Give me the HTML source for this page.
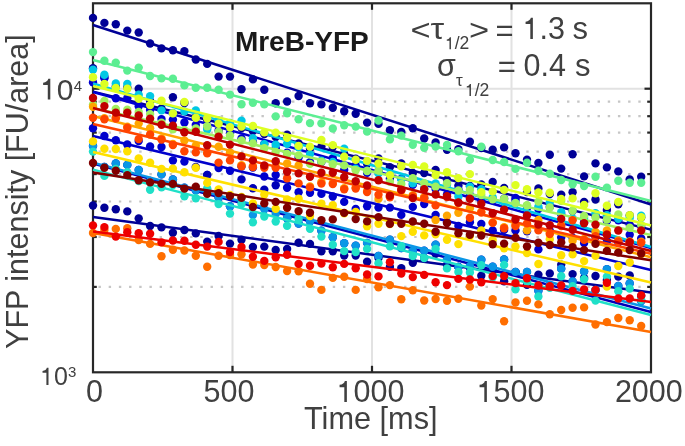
<!DOCTYPE html>
<html><head><meta charset="utf-8"><style>
html,body{margin:0;padding:0;background:#fff;width:685px;height:446px;overflow:hidden}
svg{display:block}
</style></head><body>
<svg style="will-change:transform" width="685" height="446" viewBox="0 0 685 446">
<rect width="685" height="446" fill="#fff"/>
<line x1="232.5" y1="3.3" x2="232.5" y2="372.3" stroke="#e2e2e2" stroke-width="2"/>
<line x1="372" y1="3.3" x2="372" y2="372.3" stroke="#e2e2e2" stroke-width="2"/>
<line x1="511.5" y1="3.3" x2="511.5" y2="372.3" stroke="#e2e2e2" stroke-width="2"/>
<line x1="93.0" y1="88.7" x2="651.0" y2="88.7" stroke="#e2e2e2" stroke-width="2"/>
<line x1="98.5" y1="286.9" x2="647.0" y2="286.9" stroke="#c6c6c6" stroke-width="2.2" stroke-dasharray="2.4 7.785"/>
<line x1="98.5" y1="237" x2="647.0" y2="237" stroke="#c6c6c6" stroke-width="2.2" stroke-dasharray="2.4 7.785"/>
<line x1="98.5" y1="201.5" x2="647.0" y2="201.5" stroke="#c6c6c6" stroke-width="2.2" stroke-dasharray="2.4 7.785"/>
<line x1="98.5" y1="174.1" x2="647.0" y2="174.1" stroke="#c6c6c6" stroke-width="2.2" stroke-dasharray="2.4 7.785"/>
<line x1="98.5" y1="151.6" x2="647.0" y2="151.6" stroke="#c6c6c6" stroke-width="2.2" stroke-dasharray="2.4 7.785"/>
<line x1="98.5" y1="132.6" x2="647.0" y2="132.6" stroke="#c6c6c6" stroke-width="2.2" stroke-dasharray="2.4 7.785"/>
<line x1="98.5" y1="116.2" x2="647.0" y2="116.2" stroke="#c6c6c6" stroke-width="2.2" stroke-dasharray="2.4 7.785"/>
<line x1="98.5" y1="101.7" x2="647.0" y2="101.7" stroke="#c6c6c6" stroke-width="2.2" stroke-dasharray="2.4 7.785"/>
<rect x="93.0" y="3.3" width="558.0" height="369.0" fill="none" stroke="#282828" stroke-width="2.2"/>
<line x1="232.5" y1="372.3" x2="232.5" y2="365.8" stroke="#262626" stroke-width="2.2"/>
<line x1="232.5" y1="3.3" x2="232.5" y2="9.8" stroke="#262626" stroke-width="2.2"/>
<line x1="372" y1="372.3" x2="372" y2="365.8" stroke="#262626" stroke-width="2.2"/>
<line x1="372" y1="3.3" x2="372" y2="9.8" stroke="#262626" stroke-width="2.2"/>
<line x1="511.5" y1="372.3" x2="511.5" y2="365.8" stroke="#262626" stroke-width="2.2"/>
<line x1="511.5" y1="3.3" x2="511.5" y2="9.8" stroke="#262626" stroke-width="2.2"/>
<line x1="93.0" y1="88.7" x2="99.5" y2="88.7" stroke="#262626" stroke-width="2.2"/>
<line x1="651.0" y1="88.7" x2="644.5" y2="88.7" stroke="#262626" stroke-width="2.2"/>
<line x1="93.0" y1="286.9" x2="96.8" y2="286.9" stroke="#262626" stroke-width="2.2"/>
<line x1="651.0" y1="286.9" x2="647.2" y2="286.9" stroke="#262626" stroke-width="2.2"/>
<line x1="93.0" y1="237" x2="96.8" y2="237" stroke="#262626" stroke-width="2.2"/>
<line x1="651.0" y1="237" x2="647.2" y2="237" stroke="#262626" stroke-width="2.2"/>
<line x1="93.0" y1="201.5" x2="96.8" y2="201.5" stroke="#262626" stroke-width="2.2"/>
<line x1="651.0" y1="201.5" x2="647.2" y2="201.5" stroke="#262626" stroke-width="2.2"/>
<line x1="93.0" y1="174.1" x2="96.8" y2="174.1" stroke="#262626" stroke-width="2.2"/>
<line x1="651.0" y1="174.1" x2="647.2" y2="174.1" stroke="#262626" stroke-width="2.2"/>
<line x1="93.0" y1="151.6" x2="96.8" y2="151.6" stroke="#262626" stroke-width="2.2"/>
<line x1="651.0" y1="151.6" x2="647.2" y2="151.6" stroke="#262626" stroke-width="2.2"/>
<line x1="93.0" y1="132.6" x2="96.8" y2="132.6" stroke="#262626" stroke-width="2.2"/>
<line x1="651.0" y1="132.6" x2="647.2" y2="132.6" stroke="#262626" stroke-width="2.2"/>
<line x1="93.0" y1="116.2" x2="96.8" y2="116.2" stroke="#262626" stroke-width="2.2"/>
<line x1="651.0" y1="116.2" x2="647.2" y2="116.2" stroke="#262626" stroke-width="2.2"/>
<line x1="93.0" y1="101.7" x2="96.8" y2="101.7" stroke="#262626" stroke-width="2.2"/>
<line x1="651.0" y1="101.7" x2="647.2" y2="101.7" stroke="#262626" stroke-width="2.2"/>
<g fill="#000096"><circle cx="93" cy="17.9" r="4.2"/><circle cx="104.4" cy="22.9" r="4.2"/><circle cx="115.8" cy="24.2" r="4.2"/><circle cx="127.3" cy="30.6" r="4.2"/><circle cx="138.7" cy="32.5" r="4.2"/><circle cx="150.1" cy="43.5" r="4.2"/><circle cx="161.5" cy="48.4" r="4.2"/><circle cx="172.9" cy="50.3" r="4.2"/><circle cx="184.4" cy="51.1" r="4.2"/><circle cx="195.8" cy="59.5" r="4.2"/><circle cx="207.2" cy="63.9" r="4.2"/><circle cx="218.6" cy="76.6" r="4.2"/><circle cx="230" cy="76.6" r="4.2"/><circle cx="241.5" cy="89.3" r="4.2"/><circle cx="252.9" cy="79.4" r="4.2"/><circle cx="264.3" cy="89.8" r="4.2"/><circle cx="275.7" cy="103.2" r="4.2"/><circle cx="287.1" cy="101.5" r="4.2"/><circle cx="298.6" cy="96" r="4.2"/><circle cx="310" cy="103.2" r="4.2"/><circle cx="321.4" cy="104.4" r="4.2"/><circle cx="332.8" cy="107.7" r="4.2"/><circle cx="344.2" cy="111.2" r="4.2"/><circle cx="355.7" cy="113.8" r="4.2"/><circle cx="367.1" cy="122.6" r="4.2"/><circle cx="378.5" cy="123.9" r="4.2"/><circle cx="389.9" cy="130.2" r="4.2"/><circle cx="401.3" cy="132" r="4.2"/><circle cx="412.8" cy="128.2" r="4.2"/><circle cx="424.2" cy="138.5" r="4.2"/><circle cx="435.6" cy="142.4" r="4.2"/><circle cx="447" cy="149.7" r="4.2"/><circle cx="458.4" cy="149.1" r="4.2"/><circle cx="469.9" cy="141.8" r="4.2"/><circle cx="481.3" cy="148" r="4.2"/><circle cx="492.7" cy="149.7" r="4.2"/><circle cx="504.1" cy="147.4" r="4.2"/><circle cx="515.5" cy="153.2" r="4.2"/><circle cx="527" cy="159.8" r="4.2"/><circle cx="538.4" cy="163" r="4.2"/><circle cx="549.8" cy="154.7" r="4.2"/><circle cx="561.2" cy="168.6" r="4.2"/><circle cx="572.6" cy="154.3" r="4.2"/><circle cx="584.1" cy="176.4" r="4.2"/><circle cx="595.5" cy="163.4" r="4.2"/><circle cx="606.9" cy="167.4" r="4.2"/><circle cx="618.3" cy="171.4" r="4.2"/><circle cx="629.7" cy="179.5" r="4.2"/><circle cx="641.2" cy="176.8" r="4.2"/></g>
<line x1="93.0" y1="25" x2="651.0" y2="204.5" stroke="#000096" stroke-width="2.5"/>
<g fill="#000096"><circle cx="93" cy="68.3" r="4.2"/><circle cx="104.4" cy="77" r="4.2"/><circle cx="115.8" cy="86.5" r="4.2"/><circle cx="127.3" cy="87.5" r="4.2"/><circle cx="138.7" cy="88.8" r="4.2"/><circle cx="150.1" cy="101" r="4.2"/><circle cx="161.5" cy="108.5" r="4.2"/><circle cx="172.9" cy="97.3" r="4.2"/><circle cx="184.4" cy="103" r="4.2"/><circle cx="195.8" cy="117" r="4.2"/><circle cx="207.2" cy="120" r="4.2"/><circle cx="218.6" cy="123" r="4.2"/><circle cx="230" cy="126" r="4.2"/><circle cx="241.5" cy="128" r="4.2"/><circle cx="252.9" cy="131" r="4.2"/><circle cx="264.3" cy="134" r="4.2"/><circle cx="275.7" cy="137" r="4.2"/><circle cx="287.1" cy="134.8" r="4.2"/><circle cx="298.6" cy="143.5" r="4.2"/><circle cx="310" cy="148.8" r="4.2"/><circle cx="321.4" cy="146.6" r="4.2"/><circle cx="332.8" cy="146.7" r="4.2"/><circle cx="344.2" cy="154" r="4.2"/><circle cx="355.7" cy="158.8" r="4.2"/><circle cx="367.1" cy="163.8" r="4.2"/><circle cx="378.5" cy="158.4" r="4.2"/><circle cx="389.9" cy="167.1" r="4.2"/><circle cx="401.3" cy="163.5" r="4.2"/><circle cx="412.8" cy="173" r="4.2"/><circle cx="424.2" cy="173" r="4.2"/><circle cx="435.6" cy="170" r="4.2"/><circle cx="447" cy="179.6" r="4.2"/><circle cx="458.4" cy="185.6" r="4.2"/><circle cx="469.9" cy="185.9" r="4.2"/><circle cx="481.3" cy="184.4" r="4.2"/><circle cx="492.7" cy="181.9" r="4.2"/><circle cx="504.1" cy="188" r="4.2"/><circle cx="515.5" cy="200" r="4.2"/><circle cx="527" cy="192" r="4.2"/><circle cx="538.4" cy="188.5" r="4.2"/><circle cx="549.8" cy="194" r="4.2"/><circle cx="561.2" cy="194.6" r="4.2"/><circle cx="572.6" cy="192.2" r="4.2"/><circle cx="584.1" cy="202" r="4.2"/><circle cx="595.5" cy="199.5" r="4.2"/><circle cx="606.9" cy="210" r="4.2"/><circle cx="618.3" cy="204.2" r="4.2"/><circle cx="629.7" cy="215.5" r="4.2"/><circle cx="641.2" cy="217.5" r="4.2"/></g>
<line x1="93.0" y1="91.6" x2="651.0" y2="229.6" stroke="#000096" stroke-width="2.5"/>
<g fill="#000096"><circle cx="93" cy="205.5" r="4.2"/><circle cx="104.4" cy="207.8" r="4.2"/><circle cx="115.8" cy="209.3" r="4.2"/><circle cx="127.3" cy="211.4" r="4.2"/><circle cx="138.7" cy="218.4" r="4.2"/><circle cx="150.1" cy="226" r="4.2"/><circle cx="161.5" cy="227.4" r="4.2"/><circle cx="172.9" cy="232.7" r="4.2"/><circle cx="184.4" cy="230" r="4.2"/><circle cx="195.8" cy="233.4" r="4.2"/><circle cx="207.2" cy="241.6" r="4.2"/><circle cx="218.6" cy="236" r="4.2"/><circle cx="230" cy="243.6" r="4.2"/><circle cx="241.5" cy="239.7" r="4.2"/><circle cx="252.9" cy="247" r="4.2"/><circle cx="264.3" cy="246.6" r="4.2"/><circle cx="275.7" cy="250" r="4.2"/><circle cx="287.1" cy="249" r="4.2"/><circle cx="298.6" cy="242.8" r="4.2"/><circle cx="310" cy="243.9" r="4.2"/><circle cx="321.4" cy="251.2" r="4.2"/><circle cx="332.8" cy="251.2" r="4.2"/><circle cx="344.2" cy="255.5" r="4.2"/><circle cx="355.7" cy="255.5" r="4.2"/><circle cx="367.1" cy="261.8" r="4.2"/><circle cx="378.5" cy="258" r="4.2"/><circle cx="389.9" cy="266.9" r="4.2"/><circle cx="401.3" cy="268.1" r="4.2"/><circle cx="412.8" cy="262.8" r="4.2"/><circle cx="424.2" cy="258" r="4.2"/><circle cx="435.6" cy="253.8" r="4.2"/><circle cx="447" cy="265" r="4.2"/><circle cx="458.4" cy="266.9" r="4.2"/><circle cx="469.9" cy="268" r="4.2"/><circle cx="481.3" cy="275.8" r="4.2"/><circle cx="492.7" cy="270" r="4.2"/><circle cx="504.1" cy="281.2" r="4.2"/><circle cx="515.5" cy="272.4" r="4.2"/><circle cx="527" cy="284.8" r="4.2"/><circle cx="538.4" cy="274.6" r="4.2"/><circle cx="549.8" cy="273.4" r="4.2"/><circle cx="561.2" cy="264.6" r="4.2"/><circle cx="572.6" cy="274.1" r="4.2"/><circle cx="584.1" cy="278" r="4.2"/><circle cx="595.5" cy="276" r="4.2"/><circle cx="606.9" cy="280" r="4.2"/><circle cx="618.3" cy="276.6" r="4.2"/><circle cx="629.7" cy="275.5" r="4.2"/><circle cx="641.2" cy="296" r="4.2"/></g>
<line x1="93.0" y1="217" x2="651.0" y2="292.5" stroke="#000096" stroke-width="2.5"/>
<g fill="#0000d0"><circle cx="93" cy="82.4" r="4.2"/><circle cx="104.4" cy="78.3" r="4.2"/><circle cx="115.8" cy="98.3" r="4.2"/><circle cx="127.3" cy="98.3" r="4.2"/><circle cx="138.7" cy="106.3" r="4.2"/><circle cx="150.1" cy="110" r="4.2"/><circle cx="161.5" cy="119.1" r="4.2"/><circle cx="172.9" cy="119.6" r="4.2"/><circle cx="184.4" cy="122.5" r="4.2"/><circle cx="195.8" cy="124.9" r="4.2"/><circle cx="207.2" cy="127.5" r="4.2"/><circle cx="218.6" cy="130.5" r="4.2"/><circle cx="230" cy="133.2" r="4.2"/><circle cx="241.5" cy="138.5" r="4.2"/><circle cx="252.9" cy="142.2" r="4.2"/><circle cx="264.3" cy="143.9" r="4.2"/><circle cx="275.7" cy="148.3" r="4.2"/><circle cx="287.1" cy="152.8" r="4.2"/><circle cx="298.6" cy="157.5" r="4.2"/><circle cx="310" cy="162.1" r="4.2"/><circle cx="321.4" cy="162.1" r="4.2"/><circle cx="332.8" cy="158.2" r="4.2"/><circle cx="344.2" cy="169.9" r="4.2"/><circle cx="355.7" cy="165.4" r="4.2"/><circle cx="367.1" cy="172.7" r="4.2"/><circle cx="378.5" cy="170.9" r="4.2"/><circle cx="389.9" cy="178.8" r="4.2"/><circle cx="401.3" cy="178.8" r="4.2"/><circle cx="412.8" cy="184.9" r="4.2"/><circle cx="424.2" cy="198.2" r="4.2"/><circle cx="435.6" cy="189" r="4.2"/><circle cx="447" cy="194.5" r="4.2"/><circle cx="458.4" cy="189.3" r="4.2"/><circle cx="469.9" cy="195.2" r="4.2"/><circle cx="481.3" cy="200.8" r="4.2"/><circle cx="492.7" cy="200.3" r="4.2"/><circle cx="504.1" cy="198.7" r="4.2"/><circle cx="515.5" cy="198" r="4.2"/><circle cx="527" cy="208" r="4.2"/><circle cx="538.4" cy="209" r="4.2"/><circle cx="549.8" cy="207" r="4.2"/><circle cx="561.2" cy="214.2" r="4.2"/><circle cx="572.6" cy="211.1" r="4.2"/><circle cx="584.1" cy="222.2" r="4.2"/><circle cx="595.5" cy="215.4" r="4.2"/><circle cx="606.9" cy="221.1" r="4.2"/><circle cx="618.3" cy="220.2" r="4.2"/><circle cx="629.7" cy="224.6" r="4.2"/><circle cx="641.2" cy="226" r="4.2"/></g>
<line x1="93.0" y1="92" x2="651.0" y2="248" stroke="#0000d0" stroke-width="2.5"/>
<g fill="#0000cc"><circle cx="93" cy="128.2" r="4.2"/><circle cx="104.4" cy="136" r="4.2"/><circle cx="115.8" cy="140.2" r="4.2"/><circle cx="127.3" cy="144.5" r="4.2"/><circle cx="138.7" cy="141" r="4.2"/><circle cx="150.1" cy="146.5" r="4.2"/><circle cx="161.5" cy="147" r="4.2"/><circle cx="172.9" cy="160.5" r="4.2"/><circle cx="184.4" cy="161.6" r="4.2"/><circle cx="195.8" cy="167" r="4.2"/><circle cx="207.2" cy="175" r="4.2"/><circle cx="218.6" cy="168" r="4.2"/><circle cx="230" cy="170.7" r="4.2"/><circle cx="241.5" cy="166.5" r="4.2"/><circle cx="252.9" cy="167.5" r="4.2"/><circle cx="264.3" cy="176.5" r="4.2"/><circle cx="275.7" cy="175" r="4.2"/><circle cx="287.1" cy="187.7" r="4.2"/><circle cx="298.6" cy="192.3" r="4.2"/><circle cx="310" cy="192.8" r="4.2"/><circle cx="321.4" cy="193.9" r="4.2"/><circle cx="332.8" cy="196.5" r="4.2"/><circle cx="344.2" cy="201.9" r="4.2"/><circle cx="355.7" cy="208.9" r="4.2"/><circle cx="367.1" cy="206.2" r="4.2"/><circle cx="378.5" cy="207.6" r="4.2"/><circle cx="389.9" cy="207.6" r="4.2"/><circle cx="401.3" cy="214.9" r="4.2"/><circle cx="412.8" cy="206.9" r="4.2"/><circle cx="424.2" cy="204" r="4.2"/><circle cx="435.6" cy="215" r="4.2"/><circle cx="447" cy="222.5" r="4.2"/><circle cx="458.4" cy="225.9" r="4.2"/><circle cx="469.9" cy="222.2" r="4.2"/><circle cx="481.3" cy="223.9" r="4.2"/><circle cx="492.7" cy="230.5" r="4.2"/><circle cx="504.1" cy="229.9" r="4.2"/><circle cx="515.5" cy="230.4" r="4.2"/><circle cx="527" cy="231.2" r="4.2"/><circle cx="538.4" cy="249.4" r="4.2"/><circle cx="549.8" cy="230.8" r="4.2"/><circle cx="561.2" cy="237.5" r="4.2"/><circle cx="572.6" cy="237.7" r="4.2"/><circle cx="584.1" cy="243" r="4.2"/><circle cx="595.5" cy="237" r="4.2"/><circle cx="606.9" cy="241.3" r="4.2"/><circle cx="618.3" cy="242.2" r="4.2"/><circle cx="629.7" cy="234.8" r="4.2"/><circle cx="641.2" cy="238.5" r="4.2"/></g>
<line x1="93.0" y1="136" x2="651.0" y2="270" stroke="#0000cc" stroke-width="2.5"/>
<g fill="#0000b8"><circle cx="93" cy="146.1" r="4.2"/><circle cx="104.4" cy="167" r="4.2"/><circle cx="115.8" cy="163.5" r="4.2"/><circle cx="127.3" cy="164.9" r="4.2"/><circle cx="138.7" cy="170" r="4.2"/><circle cx="150.1" cy="181" r="4.2"/><circle cx="161.5" cy="174.4" r="4.2"/><circle cx="172.9" cy="179.5" r="4.2"/><circle cx="184.4" cy="187.8" r="4.2"/><circle cx="195.8" cy="190.2" r="4.2"/><circle cx="207.2" cy="175" r="4.2"/><circle cx="218.6" cy="197.5" r="4.2"/><circle cx="230" cy="206.3" r="4.2"/><circle cx="241.5" cy="179.4" r="4.2"/><circle cx="252.9" cy="188.2" r="4.2"/><circle cx="264.3" cy="189.6" r="4.2"/><circle cx="275.7" cy="185.3" r="4.2"/><circle cx="287.1" cy="218.2" r="4.2"/><circle cx="298.6" cy="223.5" r="4.2"/><circle cx="310" cy="221.2" r="4.2"/><circle cx="321.4" cy="230.7" r="4.2"/><circle cx="332.8" cy="237.2" r="4.2"/><circle cx="344.2" cy="243.2" r="4.2"/><circle cx="355.7" cy="245.6" r="4.2"/><circle cx="367.1" cy="242.9" r="4.2"/><circle cx="378.5" cy="256" r="4.2"/><circle cx="389.9" cy="239.7" r="4.2"/><circle cx="401.3" cy="248" r="4.2"/><circle cx="412.8" cy="250.8" r="4.2"/><circle cx="424.2" cy="250.8" r="4.2"/><circle cx="435.6" cy="244.6" r="4.2"/><circle cx="447" cy="259.6" r="4.2"/><circle cx="458.4" cy="266.9" r="4.2"/><circle cx="469.9" cy="266" r="4.2"/><circle cx="481.3" cy="259.8" r="4.2"/><circle cx="492.7" cy="266.8" r="4.2"/><circle cx="504.1" cy="259.4" r="4.2"/><circle cx="515.5" cy="271.9" r="4.2"/><circle cx="527" cy="271.9" r="4.2"/><circle cx="538.4" cy="290.7" r="4.2"/><circle cx="549.8" cy="285" r="4.2"/><circle cx="561.2" cy="268.8" r="4.2"/><circle cx="572.6" cy="281.4" r="4.2"/><circle cx="584.1" cy="271.5" r="4.2"/><circle cx="595.5" cy="290" r="4.2"/><circle cx="606.9" cy="269.1" r="4.2"/><circle cx="618.3" cy="285.9" r="4.2"/><circle cx="629.7" cy="283.4" r="4.2"/><circle cx="641.2" cy="301" r="4.2"/></g>
<line x1="93.0" y1="163.5" x2="651.0" y2="312" stroke="#0000b8" stroke-width="2.5"/>
<g fill="#0a96e6"><circle cx="93" cy="146.1" r="4.2"/><circle cx="104.4" cy="167" r="4.2"/><circle cx="115.8" cy="163.5" r="4.2"/><circle cx="127.3" cy="164.9" r="4.2"/><circle cx="138.7" cy="170" r="4.2"/><circle cx="150.1" cy="181" r="4.2"/><circle cx="161.5" cy="174.4" r="4.2"/><circle cx="172.9" cy="179.5" r="4.2"/><circle cx="184.4" cy="187.8" r="4.2"/><circle cx="195.8" cy="190.2" r="4.2"/><circle cx="207.2" cy="190" r="4.2"/><circle cx="218.6" cy="197.5" r="4.2"/><circle cx="230" cy="206.3" r="4.2"/><circle cx="241.5" cy="197.5" r="4.2"/><circle cx="252.9" cy="215" r="4.2"/><circle cx="264.3" cy="209.2" r="4.2"/><circle cx="275.7" cy="213.9" r="4.2"/><circle cx="287.1" cy="218.2" r="4.2"/><circle cx="298.6" cy="223.5" r="4.2"/><circle cx="310" cy="221.2" r="4.2"/><circle cx="321.4" cy="230.7" r="4.2"/><circle cx="332.8" cy="237.2" r="4.2"/><circle cx="344.2" cy="243.2" r="4.2"/><circle cx="355.7" cy="245.6" r="4.2"/><circle cx="367.1" cy="242.9" r="4.2"/><circle cx="378.5" cy="256" r="4.2"/><circle cx="389.9" cy="239.7" r="4.2"/><circle cx="401.3" cy="248" r="4.2"/><circle cx="412.8" cy="250.8" r="4.2"/><circle cx="424.2" cy="250.8" r="4.2"/><circle cx="435.6" cy="244.6" r="4.2"/><circle cx="447" cy="259.6" r="4.2"/><circle cx="458.4" cy="266.9" r="4.2"/><circle cx="469.9" cy="266" r="4.2"/><circle cx="481.3" cy="259.8" r="4.2"/><circle cx="492.7" cy="266.8" r="4.2"/><circle cx="504.1" cy="259.4" r="4.2"/><circle cx="515.5" cy="271.9" r="4.2"/><circle cx="527" cy="271.9" r="4.2"/><circle cx="538.4" cy="290.7" r="4.2"/><circle cx="549.8" cy="285" r="4.2"/><circle cx="561.2" cy="268.8" r="4.2"/><circle cx="572.6" cy="281.4" r="4.2"/><circle cx="584.1" cy="271.5" r="4.2"/><circle cx="595.5" cy="290" r="4.2"/><circle cx="606.9" cy="269.1" r="4.2"/><circle cx="618.3" cy="285.9" r="4.2"/><circle cx="629.7" cy="283.4" r="4.2"/><circle cx="641.2" cy="301" r="4.2"/></g>
<line x1="93.0" y1="162.6" x2="651.0" y2="308.5" stroke="#0a96e6" stroke-width="2.5"/>
<g fill="#00c8e4"><circle cx="93" cy="69.7" r="4.2"/><circle cx="104.4" cy="74.8" r="4.2"/><circle cx="115.8" cy="83.5" r="4.2"/><circle cx="127.3" cy="84" r="4.2"/><circle cx="138.7" cy="94.7" r="4.2"/><circle cx="150.1" cy="96.1" r="4.2"/><circle cx="161.5" cy="110.4" r="4.2"/><circle cx="172.9" cy="113" r="4.2"/><circle cx="184.4" cy="111.4" r="4.2"/><circle cx="195.8" cy="110.4" r="4.2"/><circle cx="207.2" cy="129.5" r="4.2"/><circle cx="218.6" cy="120.5" r="4.2"/><circle cx="230" cy="123" r="4.2"/><circle cx="241.5" cy="120.8" r="4.2"/><circle cx="252.9" cy="138.3" r="4.2"/><circle cx="264.3" cy="144.1" r="4.2"/><circle cx="275.7" cy="144.7" r="4.2"/><circle cx="287.1" cy="143.7" r="4.2"/><circle cx="298.6" cy="147.2" r="4.2"/><circle cx="310" cy="154.1" r="4.2"/><circle cx="321.4" cy="160.7" r="4.2"/><circle cx="332.8" cy="162" r="4.2"/><circle cx="344.2" cy="148.8" r="4.2"/><circle cx="355.7" cy="168.6" r="4.2"/><circle cx="367.1" cy="170.7" r="4.2"/><circle cx="378.5" cy="173.4" r="4.2"/><circle cx="389.9" cy="174.5" r="4.2"/><circle cx="401.3" cy="179.4" r="4.2"/><circle cx="412.8" cy="183.2" r="4.2"/><circle cx="424.2" cy="188.3" r="4.2"/><circle cx="435.6" cy="183.5" r="4.2"/><circle cx="447" cy="184.8" r="4.2"/><circle cx="458.4" cy="196.5" r="4.2"/><circle cx="469.9" cy="186.6" r="4.2"/><circle cx="481.3" cy="189.2" r="4.2"/><circle cx="492.7" cy="197.4" r="4.2"/><circle cx="504.1" cy="202.1" r="4.2"/><circle cx="515.5" cy="203" r="4.2"/><circle cx="527" cy="205.8" r="4.2"/><circle cx="538.4" cy="206.7" r="4.2"/><circle cx="549.8" cy="202.6" r="4.2"/><circle cx="561.2" cy="212.2" r="4.2"/><circle cx="572.6" cy="218.5" r="4.2"/><circle cx="584.1" cy="217.9" r="4.2"/><circle cx="595.5" cy="213.3" r="4.2"/><circle cx="606.9" cy="215.3" r="4.2"/><circle cx="618.3" cy="218.7" r="4.2"/><circle cx="629.7" cy="217.9" r="4.2"/><circle cx="641.2" cy="215.6" r="4.2"/></g>
<line x1="93.0" y1="83.4" x2="651.0" y2="247" stroke="#00c8e4" stroke-width="2.5"/>
<g fill="#20e0c8"><circle cx="93" cy="151.6" r="4.2"/><circle cx="104.4" cy="175.9" r="4.2"/><circle cx="115.8" cy="168.9" r="4.2"/><circle cx="127.3" cy="172.2" r="4.2"/><circle cx="138.7" cy="181" r="4.2"/><circle cx="150.1" cy="189.7" r="4.2"/><circle cx="161.5" cy="187.2" r="4.2"/><circle cx="172.9" cy="185" r="4.2"/><circle cx="184.4" cy="196.2" r="4.2"/><circle cx="195.8" cy="198.2" r="4.2"/><circle cx="207.2" cy="188.5" r="4.2"/><circle cx="218.6" cy="204.1" r="4.2"/><circle cx="230" cy="213.6" r="4.2"/><circle cx="241.5" cy="204" r="4.2"/><circle cx="252.9" cy="222.2" r="4.2"/><circle cx="264.3" cy="216.5" r="4.2"/><circle cx="275.7" cy="221.5" r="4.2"/><circle cx="287.1" cy="225.7" r="4.2"/><circle cx="298.6" cy="219" r="4.2"/><circle cx="310" cy="228.8" r="4.2"/><circle cx="321.4" cy="236.6" r="4.2"/><circle cx="332.8" cy="244.7" r="4.2"/><circle cx="344.2" cy="251.1" r="4.2"/><circle cx="355.7" cy="252" r="4.2"/><circle cx="367.1" cy="248.9" r="4.2"/><circle cx="378.5" cy="263.2" r="4.2"/><circle cx="389.9" cy="246.4" r="4.2"/><circle cx="401.3" cy="246.1" r="4.2"/><circle cx="412.8" cy="256" r="4.2"/><circle cx="424.2" cy="258.1" r="4.2"/><circle cx="435.6" cy="248.9" r="4.2"/><circle cx="447" cy="268.4" r="4.2"/><circle cx="458.4" cy="272" r="4.2"/><circle cx="469.9" cy="272.5" r="4.2"/><circle cx="481.3" cy="265.2" r="4.2"/><circle cx="492.7" cy="277.3" r="4.2"/><circle cx="504.1" cy="264.9" r="4.2"/><circle cx="515.5" cy="289.2" r="4.2"/><circle cx="527" cy="281.7" r="4.2"/><circle cx="538.4" cy="296.5" r="4.2"/><circle cx="549.8" cy="287.7" r="4.2"/><circle cx="561.2" cy="276.2" r="4.2"/><circle cx="572.6" cy="286.1" r="4.2"/><circle cx="584.1" cy="279.2" r="4.2"/><circle cx="595.5" cy="300.6" r="4.2"/><circle cx="606.9" cy="276.6" r="4.2"/><circle cx="618.3" cy="291.2" r="4.2"/><circle cx="629.7" cy="288.6" r="4.2"/><circle cx="641.2" cy="299.9" r="4.2"/></g>
<line x1="93.0" y1="169.6" x2="651.0" y2="315" stroke="#20e0c8" stroke-width="2.5"/>
<g fill="#5cee92"><circle cx="93" cy="52.1" r="4.2"/><circle cx="104.4" cy="60.8" r="4.2"/><circle cx="115.8" cy="62.6" r="4.2"/><circle cx="127.3" cy="70.6" r="4.2"/><circle cx="138.7" cy="67.6" r="4.2"/><circle cx="150.1" cy="76" r="4.2"/><circle cx="161.5" cy="78.4" r="4.2"/><circle cx="172.9" cy="78.8" r="4.2"/><circle cx="184.4" cy="85.4" r="4.2"/><circle cx="195.8" cy="87.8" r="4.2"/><circle cx="207.2" cy="87.8" r="4.2"/><circle cx="218.6" cy="89.7" r="4.2"/><circle cx="230" cy="94.6" r="4.2"/><circle cx="241.5" cy="104.2" r="4.2"/><circle cx="252.9" cy="102.7" r="4.2"/><circle cx="264.3" cy="104.4" r="4.2"/><circle cx="275.7" cy="116.4" r="4.2"/><circle cx="287.1" cy="113.2" r="4.2"/><circle cx="298.6" cy="119.3" r="4.2"/><circle cx="310" cy="123.1" r="4.2"/><circle cx="321.4" cy="123.4" r="4.2"/><circle cx="332.8" cy="128.5" r="4.2"/><circle cx="344.2" cy="125.3" r="4.2"/><circle cx="355.7" cy="126.6" r="4.2"/><circle cx="367.1" cy="131.6" r="4.2"/><circle cx="378.5" cy="120.5" r="4.2"/><circle cx="389.9" cy="139.4" r="4.2"/><circle cx="401.3" cy="135.6" r="4.2"/><circle cx="412.8" cy="144.7" r="4.2"/><circle cx="424.2" cy="147.7" r="4.2"/><circle cx="435.6" cy="146.5" r="4.2"/><circle cx="447" cy="145" r="4.2"/><circle cx="458.4" cy="151.2" r="4.2"/><circle cx="469.9" cy="159.9" r="4.2"/><circle cx="481.3" cy="146.8" r="4.2"/><circle cx="492.7" cy="160" r="4.2"/><circle cx="504.1" cy="162" r="4.2"/><circle cx="515.5" cy="168.9" r="4.2"/><circle cx="527" cy="162.7" r="4.2"/><circle cx="538.4" cy="170.8" r="4.2"/><circle cx="549.8" cy="173.7" r="4.2"/><circle cx="561.2" cy="180" r="4.2"/><circle cx="572.6" cy="184.3" r="4.2"/><circle cx="584.1" cy="186.1" r="4.2"/><circle cx="595.5" cy="176.8" r="4.2"/><circle cx="606.9" cy="187.6" r="4.2"/><circle cx="618.3" cy="180.8" r="4.2"/><circle cx="629.7" cy="182.8" r="4.2"/><circle cx="641.2" cy="182.8" r="4.2"/></g>
<line x1="93.0" y1="60" x2="651.0" y2="201" stroke="#5cee92" stroke-width="2.5"/>
<g fill="#a0f060"><circle cx="93" cy="104.8" r="4.2"/><circle cx="104.4" cy="101" r="4.2"/><circle cx="115.8" cy="109" r="4.2"/><circle cx="127.3" cy="109.7" r="4.2"/><circle cx="138.7" cy="111.9" r="4.2"/><circle cx="150.1" cy="114.1" r="4.2"/><circle cx="161.5" cy="122.8" r="4.2"/><circle cx="172.9" cy="129.4" r="4.2"/><circle cx="184.4" cy="130.2" r="4.2"/><circle cx="195.8" cy="128.4" r="4.2"/><circle cx="207.2" cy="126.2" r="4.2"/><circle cx="218.6" cy="131.7" r="4.2"/><circle cx="230" cy="135.4" r="4.2"/><circle cx="241.5" cy="140.5" r="4.2"/><circle cx="252.9" cy="143.4" r="4.2"/><circle cx="264.3" cy="148.2" r="4.2"/><circle cx="275.7" cy="152" r="4.2"/><circle cx="287.1" cy="153.9" r="4.2"/><circle cx="298.6" cy="155.4" r="4.2"/><circle cx="310" cy="163.9" r="4.2"/><circle cx="321.4" cy="161.7" r="4.2"/><circle cx="332.8" cy="164.2" r="4.2"/><circle cx="344.2" cy="165.4" r="4.2"/><circle cx="355.7" cy="170.2" r="4.2"/><circle cx="367.1" cy="171" r="4.2"/><circle cx="378.5" cy="170.6" r="4.2"/><circle cx="389.9" cy="181.7" r="4.2"/><circle cx="401.3" cy="183.9" r="4.2"/><circle cx="412.8" cy="178.1" r="4.2"/><circle cx="424.2" cy="183.2" r="4.2"/><circle cx="435.6" cy="186.8" r="4.2"/><circle cx="447" cy="183.2" r="4.2"/><circle cx="458.4" cy="190.5" r="4.2"/><circle cx="469.9" cy="189.9" r="4.2"/><circle cx="481.3" cy="195" r="4.2"/><circle cx="492.7" cy="199.4" r="4.2"/><circle cx="504.1" cy="198.7" r="4.2"/><circle cx="515.5" cy="203.1" r="4.2"/><circle cx="527" cy="205.3" r="4.2"/><circle cx="538.4" cy="201.6" r="4.2"/><circle cx="549.8" cy="207.4" r="4.2"/><circle cx="561.2" cy="200.8" r="4.2"/><circle cx="572.6" cy="210.8" r="4.2"/><circle cx="584.1" cy="215.9" r="4.2"/><circle cx="595.5" cy="217.4" r="4.2"/><circle cx="606.9" cy="219.5" r="4.2"/><circle cx="618.3" cy="214.4" r="4.2"/><circle cx="629.7" cy="227.8" r="4.2"/><circle cx="641.2" cy="224.9" r="4.2"/></g>
<line x1="93.0" y1="108" x2="651.0" y2="235" stroke="#a0f060" stroke-width="2.5"/>
<g fill="#ddff22"><circle cx="93" cy="77.3" r="4.2"/><circle cx="104.4" cy="84" r="4.2"/><circle cx="115.8" cy="88" r="4.2"/><circle cx="127.3" cy="88.8" r="4.2"/><circle cx="138.7" cy="98.8" r="4.2"/><circle cx="150.1" cy="105" r="4.2"/><circle cx="161.5" cy="100.7" r="4.2"/><circle cx="172.9" cy="113.4" r="4.2"/><circle cx="184.4" cy="102" r="4.2"/><circle cx="195.8" cy="117.8" r="4.2"/><circle cx="207.2" cy="118.3" r="4.2"/><circle cx="218.6" cy="123.7" r="4.2"/><circle cx="230" cy="127.3" r="4.2"/><circle cx="241.5" cy="126.6" r="4.2"/><circle cx="252.9" cy="125.9" r="4.2"/><circle cx="264.3" cy="132.4" r="4.2"/><circle cx="275.7" cy="132.6" r="4.2"/><circle cx="287.1" cy="137.8" r="4.2"/><circle cx="298.6" cy="145.9" r="4.2"/><circle cx="310" cy="146.6" r="4.2"/><circle cx="321.4" cy="140" r="4.2"/><circle cx="332.8" cy="145.1" r="4.2"/><circle cx="344.2" cy="156.8" r="4.2"/><circle cx="355.7" cy="159.8" r="4.2"/><circle cx="367.1" cy="160.9" r="4.2"/><circle cx="378.5" cy="163.5" r="4.2"/><circle cx="389.9" cy="175.1" r="4.2"/><circle cx="401.3" cy="166.4" r="4.2"/><circle cx="412.8" cy="164.9" r="4.2"/><circle cx="424.2" cy="166.4" r="4.2"/><circle cx="435.6" cy="175.1" r="4.2"/><circle cx="447" cy="172.2" r="4.2"/><circle cx="458.4" cy="178.1" r="4.2"/><circle cx="469.9" cy="174.1" r="4.2"/><circle cx="481.3" cy="192.1" r="4.2"/><circle cx="492.7" cy="191.4" r="4.2"/><circle cx="504.1" cy="189.9" r="4.2"/><circle cx="515.5" cy="185.1" r="4.2"/><circle cx="527" cy="189.2" r="4.2"/><circle cx="538.4" cy="192.4" r="4.2"/><circle cx="549.8" cy="192.8" r="4.2"/><circle cx="561.2" cy="198.9" r="4.2"/><circle cx="572.6" cy="198.4" r="4.2"/><circle cx="584.1" cy="204.9" r="4.2"/><circle cx="595.5" cy="193.2" r="4.2"/><circle cx="606.9" cy="205.7" r="4.2"/><circle cx="618.3" cy="202" r="4.2"/><circle cx="629.7" cy="215.1" r="4.2"/><circle cx="641.2" cy="217.3" r="4.2"/></g>
<line x1="93.0" y1="86" x2="651.0" y2="225.5" stroke="#ddff22" stroke-width="2.5"/>
<g fill="#ffe000"><circle cx="93" cy="141.4" r="4.2"/><circle cx="104.4" cy="148.7" r="4.2"/><circle cx="115.8" cy="149" r="4.2"/><circle cx="127.3" cy="151.2" r="4.2"/><circle cx="138.7" cy="158.4" r="4.2"/><circle cx="150.1" cy="162.7" r="4.2"/><circle cx="161.5" cy="168.9" r="4.2"/><circle cx="172.9" cy="168.6" r="4.2"/><circle cx="184.4" cy="172.2" r="4.2"/><circle cx="195.8" cy="167.7" r="4.2"/><circle cx="207.2" cy="182.9" r="4.2"/><circle cx="218.6" cy="189.5" r="4.2"/><circle cx="230" cy="195" r="4.2"/><circle cx="241.5" cy="197" r="4.2"/><circle cx="252.9" cy="203.4" r="4.2"/><circle cx="264.3" cy="194.6" r="4.2"/><circle cx="275.7" cy="208.7" r="4.2"/><circle cx="287.1" cy="199.4" r="4.2"/><circle cx="298.6" cy="198.7" r="4.2"/><circle cx="310" cy="216" r="4.2"/><circle cx="321.4" cy="203.8" r="4.2"/><circle cx="332.8" cy="205.3" r="4.2"/><circle cx="344.2" cy="213.2" r="4.2"/><circle cx="355.7" cy="212" r="4.2"/><circle cx="367.1" cy="226.3" r="4.2"/><circle cx="378.5" cy="223.7" r="4.2"/><circle cx="389.9" cy="224" r="4.2"/><circle cx="401.3" cy="236.1" r="4.2"/><circle cx="412.8" cy="231.7" r="4.2"/><circle cx="424.2" cy="235.4" r="4.2"/><circle cx="435.6" cy="234.2" r="4.2"/><circle cx="447" cy="239.7" r="4.2"/><circle cx="458.4" cy="244.1" r="4.2"/><circle cx="469.9" cy="236" r="4.2"/><circle cx="481.3" cy="230.4" r="4.2"/><circle cx="492.7" cy="240" r="4.2"/><circle cx="504.1" cy="248.2" r="4.2"/><circle cx="515.5" cy="246.5" r="4.2"/><circle cx="527" cy="253.1" r="4.2"/><circle cx="538.4" cy="264" r="4.2"/><circle cx="549.8" cy="239.2" r="4.2"/><circle cx="561.2" cy="255.2" r="4.2"/><circle cx="572.6" cy="254.4" r="4.2"/><circle cx="584.1" cy="261.1" r="4.2"/><circle cx="595.5" cy="255.9" r="4.2"/><circle cx="606.9" cy="286.5" r="4.2"/><circle cx="618.3" cy="266" r="4.2"/><circle cx="629.7" cy="262.5" r="4.2"/><circle cx="641.2" cy="254" r="4.2"/></g>
<line x1="93.0" y1="152" x2="651.0" y2="282.5" stroke="#ffe000" stroke-width="2.5"/>
<g fill="#ffa500"><circle cx="93" cy="106.8" r="4.2"/><circle cx="104.4" cy="118.2" r="4.2"/><circle cx="115.8" cy="117.5" r="4.2"/><circle cx="127.3" cy="126.7" r="4.2"/><circle cx="138.7" cy="123.6" r="4.2"/><circle cx="150.1" cy="128.2" r="4.2"/><circle cx="161.5" cy="138.5" r="4.2"/><circle cx="172.9" cy="144" r="4.2"/><circle cx="184.4" cy="140.5" r="4.2"/><circle cx="195.8" cy="145.8" r="4.2"/><circle cx="207.2" cy="152.4" r="4.2"/><circle cx="218.6" cy="146.8" r="4.2"/><circle cx="230" cy="152.4" r="4.2"/><circle cx="241.5" cy="165.3" r="4.2"/><circle cx="252.9" cy="166" r="4.2"/><circle cx="264.3" cy="166.7" r="4.2"/><circle cx="275.7" cy="166.7" r="4.2"/><circle cx="287.1" cy="163.5" r="4.2"/><circle cx="298.6" cy="165.4" r="4.2"/><circle cx="310" cy="186.4" r="4.2"/><circle cx="321.4" cy="181.9" r="4.2"/><circle cx="332.8" cy="183.1" r="4.2"/><circle cx="344.2" cy="188.2" r="4.2"/><circle cx="355.7" cy="187.5" r="4.2"/><circle cx="367.1" cy="191.1" r="4.2"/><circle cx="378.5" cy="198.9" r="4.2"/><circle cx="389.9" cy="196.2" r="4.2"/><circle cx="401.3" cy="189.5" r="4.2"/><circle cx="412.8" cy="195.3" r="4.2"/><circle cx="424.2" cy="197.1" r="4.2"/><circle cx="435.6" cy="220" r="4.2"/><circle cx="447" cy="215.7" r="4.2"/><circle cx="458.4" cy="212.7" r="4.2"/><circle cx="469.9" cy="208.2" r="4.2"/><circle cx="481.3" cy="211.6" r="4.2"/><circle cx="492.7" cy="222.4" r="4.2"/><circle cx="504.1" cy="227.2" r="4.2"/><circle cx="515.5" cy="225" r="4.2"/><circle cx="527" cy="230.4" r="4.2"/><circle cx="538.4" cy="219.9" r="4.2"/><circle cx="549.8" cy="233.1" r="4.2"/><circle cx="561.2" cy="225.1" r="4.2"/><circle cx="572.6" cy="240.7" r="4.2"/><circle cx="584.1" cy="238.9" r="4.2"/><circle cx="595.5" cy="231.9" r="4.2"/><circle cx="606.9" cy="230.4" r="4.2"/><circle cx="618.3" cy="240.4" r="4.2"/><circle cx="629.7" cy="241.5" r="4.2"/><circle cx="641.2" cy="241.8" r="4.2"/></g>
<line x1="93.0" y1="116" x2="651.0" y2="257.3" stroke="#ffa500" stroke-width="2.5"/>
<g fill="#ff6e00"><circle cx="93" cy="233" r="4.2"/><circle cx="104.4" cy="230" r="4.2"/><circle cx="115.8" cy="228.9" r="4.2"/><circle cx="127.3" cy="228.3" r="4.2"/><circle cx="138.7" cy="240" r="4.2"/><circle cx="150.1" cy="243.9" r="4.2"/><circle cx="161.5" cy="256.3" r="4.2"/><circle cx="172.9" cy="249.7" r="4.2"/><circle cx="184.4" cy="250.5" r="4.2"/><circle cx="195.8" cy="255.8" r="4.2"/><circle cx="207.2" cy="266.7" r="4.2"/><circle cx="218.6" cy="255.8" r="4.2"/><circle cx="230" cy="255" r="4.2"/><circle cx="241.5" cy="254.3" r="4.2"/><circle cx="252.9" cy="264.5" r="4.2"/><circle cx="264.3" cy="265" r="4.2"/><circle cx="275.7" cy="267" r="4.2"/><circle cx="287.1" cy="271.1" r="4.2"/><circle cx="298.6" cy="271.2" r="4.2"/><circle cx="310" cy="283.7" r="4.2"/><circle cx="321.4" cy="289.9" r="4.2"/><circle cx="332.8" cy="277.9" r="4.2"/><circle cx="344.2" cy="276.7" r="4.2"/><circle cx="355.7" cy="289.9" r="4.2"/><circle cx="367.1" cy="279" r="4.2"/><circle cx="378.5" cy="287.2" r="4.2"/><circle cx="389.9" cy="285.1" r="4.2"/><circle cx="401.3" cy="299.3" r="4.2"/><circle cx="412.8" cy="290.3" r="4.2"/><circle cx="424.2" cy="300.5" r="4.2"/><circle cx="435.6" cy="299" r="4.2"/><circle cx="447" cy="300.8" r="4.2"/><circle cx="458.4" cy="298.7" r="4.2"/><circle cx="469.9" cy="286.6" r="4.2"/><circle cx="481.3" cy="305.5" r="4.2"/><circle cx="492.7" cy="299.1" r="4.2"/><circle cx="504.1" cy="321.3" r="4.2"/><circle cx="515.5" cy="302.5" r="4.2"/><circle cx="527" cy="300.8" r="4.2"/><circle cx="538.4" cy="304.4" r="4.2"/><circle cx="549.8" cy="314.3" r="4.2"/><circle cx="561.2" cy="310" r="4.2"/><circle cx="572.6" cy="307.8" r="4.2"/><circle cx="584.1" cy="307.4" r="4.2"/><circle cx="595.5" cy="324.5" r="4.2"/><circle cx="606.9" cy="322.1" r="4.2"/><circle cx="618.3" cy="318" r="4.2"/><circle cx="629.7" cy="320.2" r="4.2"/><circle cx="641.2" cy="326" r="4.2"/></g>
<line x1="93.0" y1="233" x2="651.0" y2="332" stroke="#ff6e00" stroke-width="2.5"/>
<g fill="#ff4400"><circle cx="93" cy="117.7" r="4.2"/><circle cx="104.4" cy="119.2" r="4.2"/><circle cx="115.8" cy="118.5" r="4.2"/><circle cx="127.3" cy="127.7" r="4.2"/><circle cx="138.7" cy="139.1" r="4.2"/><circle cx="150.1" cy="134.5" r="4.2"/><circle cx="161.5" cy="139.5" r="4.2"/><circle cx="172.9" cy="145" r="4.2"/><circle cx="184.4" cy="151.2" r="4.2"/><circle cx="195.8" cy="152.4" r="4.2"/><circle cx="207.2" cy="153.4" r="4.2"/><circle cx="218.6" cy="162.6" r="4.2"/><circle cx="230" cy="160.4" r="4.2"/><circle cx="241.5" cy="166.3" r="4.2"/><circle cx="252.9" cy="167" r="4.2"/><circle cx="264.3" cy="167.7" r="4.2"/><circle cx="275.7" cy="167.7" r="4.2"/><circle cx="287.1" cy="178.2" r="4.2"/><circle cx="298.6" cy="183.4" r="4.2"/><circle cx="310" cy="187.4" r="4.2"/><circle cx="321.4" cy="183.6" r="4.2"/><circle cx="332.8" cy="184.1" r="4.2"/><circle cx="344.2" cy="189.2" r="4.2"/><circle cx="355.7" cy="188.5" r="4.2"/><circle cx="367.1" cy="192.1" r="4.2"/><circle cx="378.5" cy="194.7" r="4.2"/><circle cx="389.9" cy="197.2" r="4.2"/><circle cx="401.3" cy="190.5" r="4.2"/><circle cx="412.8" cy="196.3" r="4.2"/><circle cx="424.2" cy="198.1" r="4.2"/><circle cx="435.6" cy="205.4" r="4.2"/><circle cx="447" cy="197" r="4.2"/><circle cx="458.4" cy="203" r="4.2"/><circle cx="469.9" cy="217.7" r="4.2"/><circle cx="481.3" cy="212.6" r="4.2"/><circle cx="492.7" cy="222.9" r="4.2"/><circle cx="504.1" cy="228.2" r="4.2"/><circle cx="515.5" cy="226" r="4.2"/><circle cx="527" cy="223.4" r="4.2"/><circle cx="538.4" cy="230.4" r="4.2"/><circle cx="549.8" cy="234.1" r="4.2"/><circle cx="561.2" cy="226.1" r="4.2"/><circle cx="572.6" cy="220.3" r="4.2"/><circle cx="584.1" cy="239.9" r="4.2"/><circle cx="595.5" cy="236.3" r="4.2"/><circle cx="606.9" cy="234.4" r="4.2"/><circle cx="618.3" cy="241.4" r="4.2"/><circle cx="629.7" cy="242.5" r="4.2"/><circle cx="641.2" cy="242.8" r="4.2"/></g>
<line x1="93.0" y1="124" x2="651.0" y2="253.7" stroke="#ff4400" stroke-width="2.5"/>
<g fill="#ee0000"><circle cx="93" cy="225.4" r="4.2"/><circle cx="104.4" cy="227.1" r="4.2"/><circle cx="115.8" cy="236.6" r="4.2"/><circle cx="127.3" cy="232.2" r="4.2"/><circle cx="138.7" cy="233.2" r="4.2"/><circle cx="150.1" cy="233.7" r="4.2"/><circle cx="161.5" cy="242.4" r="4.2"/><circle cx="172.9" cy="240.5" r="4.2"/><circle cx="184.4" cy="240.7" r="4.2"/><circle cx="195.8" cy="244.8" r="4.2"/><circle cx="207.2" cy="246.6" r="4.2"/><circle cx="218.6" cy="241.9" r="4.2"/><circle cx="230" cy="252.1" r="4.2"/><circle cx="241.5" cy="247" r="4.2"/><circle cx="252.9" cy="256.8" r="4.2"/><circle cx="264.3" cy="260.9" r="4.2"/><circle cx="275.7" cy="257.2" r="4.2"/><circle cx="287.1" cy="254.7" r="4.2"/><circle cx="298.6" cy="263.9" r="4.2"/><circle cx="310" cy="265.8" r="4.2"/><circle cx="321.4" cy="263.6" r="4.2"/><circle cx="332.8" cy="267.2" r="4.2"/><circle cx="344.2" cy="263.9" r="4.2"/><circle cx="355.7" cy="268.2" r="4.2"/><circle cx="367.1" cy="274.5" r="4.2"/><circle cx="378.5" cy="276.4" r="4.2"/><circle cx="389.9" cy="262.2" r="4.2"/><circle cx="401.3" cy="273.5" r="4.2"/><circle cx="412.8" cy="277.1" r="4.2"/><circle cx="424.2" cy="274.9" r="4.2"/><circle cx="435.6" cy="282.2" r="4.2"/><circle cx="447" cy="285.1" r="4.2"/><circle cx="458.4" cy="278.9" r="4.2"/><circle cx="469.9" cy="279.5" r="4.2"/><circle cx="481.3" cy="282.2" r="4.2"/><circle cx="492.7" cy="276.1" r="4.2"/><circle cx="504.1" cy="276.1" r="4.2"/><circle cx="515.5" cy="283.1" r="4.2"/><circle cx="527" cy="278.2" r="4.2"/><circle cx="538.4" cy="285.5" r="4.2"/><circle cx="549.8" cy="286.3" r="4.2"/><circle cx="561.2" cy="285.5" r="4.2"/><circle cx="572.6" cy="290.9" r="4.2"/><circle cx="584.1" cy="289.4" r="4.2"/><circle cx="595.5" cy="289.9" r="4.2"/><circle cx="606.9" cy="282.7" r="4.2"/><circle cx="618.3" cy="298.5" r="4.2"/><circle cx="629.7" cy="298.5" r="4.2"/><circle cx="641.2" cy="295.5" r="4.2"/></g>
<line x1="93.0" y1="231.5" x2="651.0" y2="302" stroke="#ee0000" stroke-width="2.5"/>
<g fill="#c00000"><circle cx="93" cy="98" r="4.2"/><circle cx="104.4" cy="106.1" r="4.2"/><circle cx="115.8" cy="112.6" r="4.2"/><circle cx="127.3" cy="112.6" r="4.2"/><circle cx="138.7" cy="115.5" r="4.2"/><circle cx="150.1" cy="118.6" r="4.2"/><circle cx="161.5" cy="124.7" r="4.2"/><circle cx="172.9" cy="125.7" r="4.2"/><circle cx="184.4" cy="132.3" r="4.2"/><circle cx="195.8" cy="131.7" r="4.2"/><circle cx="207.2" cy="145.3" r="4.2"/><circle cx="218.6" cy="136.8" r="4.2"/><circle cx="230" cy="144.6" r="4.2"/><circle cx="241.5" cy="156.4" r="4.2"/><circle cx="252.9" cy="160.4" r="4.2"/><circle cx="264.3" cy="165.5" r="4.2"/><circle cx="275.7" cy="161.2" r="4.2"/><circle cx="287.1" cy="171.7" r="4.2"/><circle cx="298.6" cy="173.4" r="4.2"/><circle cx="310" cy="176.8" r="4.2"/><circle cx="321.4" cy="172.8" r="4.2"/><circle cx="332.8" cy="172.8" r="4.2"/><circle cx="344.2" cy="177.2" r="4.2"/><circle cx="355.7" cy="181.2" r="4.2"/><circle cx="367.1" cy="185.5" r="4.2"/><circle cx="378.5" cy="180.3" r="4.2"/><circle cx="389.9" cy="195.8" r="4.2"/><circle cx="401.3" cy="189.9" r="4.2"/><circle cx="412.8" cy="198.1" r="4.2"/><circle cx="424.2" cy="189.2" r="4.2"/><circle cx="435.6" cy="194.5" r="4.2"/><circle cx="447" cy="196.2" r="4.2"/><circle cx="458.4" cy="202.5" r="4.2"/><circle cx="469.9" cy="198.8" r="4.2"/><circle cx="481.3" cy="203.8" r="4.2"/><circle cx="492.7" cy="213.3" r="4.2"/><circle cx="504.1" cy="209.6" r="4.2"/><circle cx="515.5" cy="219.5" r="4.2"/><circle cx="527" cy="215.5" r="4.2"/><circle cx="538.4" cy="224.6" r="4.2"/><circle cx="549.8" cy="225.3" r="4.2"/><circle cx="561.2" cy="218.9" r="4.2"/><circle cx="572.6" cy="229.7" r="4.2"/><circle cx="584.1" cy="223.2" r="4.2"/><circle cx="595.5" cy="224.6" r="4.2"/><circle cx="606.9" cy="234.8" r="4.2"/><circle cx="618.3" cy="230.5" r="4.2"/><circle cx="629.7" cy="242.1" r="4.2"/><circle cx="641.2" cy="230.5" r="4.2"/></g>
<line x1="93.0" y1="108" x2="651.0" y2="251" stroke="#c00000" stroke-width="2.5"/>
<g fill="#800000"><circle cx="93" cy="163" r="4.2"/><circle cx="104.4" cy="167.8" r="4.2"/><circle cx="115.8" cy="170.8" r="4.2"/><circle cx="127.3" cy="175.1" r="4.2"/><circle cx="138.7" cy="180.3" r="4.2"/><circle cx="150.1" cy="182.4" r="4.2"/><circle cx="161.5" cy="183.9" r="4.2"/><circle cx="172.9" cy="183.9" r="4.2"/><circle cx="184.4" cy="188.6" r="4.2"/><circle cx="195.8" cy="186.6" r="4.2"/><circle cx="207.2" cy="193.9" r="4.2"/><circle cx="218.6" cy="193.1" r="4.2"/><circle cx="230" cy="196.1" r="4.2"/><circle cx="241.5" cy="197.8" r="4.2"/><circle cx="252.9" cy="207" r="4.2"/><circle cx="264.3" cy="203.4" r="4.2"/><circle cx="275.7" cy="201.9" r="4.2"/><circle cx="287.1" cy="207.7" r="4.2"/><circle cx="298.6" cy="211.1" r="4.2"/><circle cx="310" cy="212.7" r="4.2"/><circle cx="321.4" cy="220.2" r="4.2"/><circle cx="332.8" cy="219.4" r="4.2"/><circle cx="344.2" cy="212.9" r="4.2"/><circle cx="355.7" cy="219.1" r="4.2"/><circle cx="367.1" cy="221.4" r="4.2"/><circle cx="378.5" cy="217.1" r="4.2"/><circle cx="389.9" cy="223.7" r="4.2"/><circle cx="401.3" cy="223.7" r="4.2"/><circle cx="412.8" cy="221.5" r="4.2"/><circle cx="424.2" cy="223.7" r="4.2"/><circle cx="435.6" cy="231.7" r="4.2"/><circle cx="447" cy="223" r="4.2"/><circle cx="458.4" cy="233.2" r="4.2"/><circle cx="469.9" cy="234.7" r="4.2"/><circle cx="481.3" cy="235.5" r="4.2"/><circle cx="492.7" cy="244.3" r="4.2"/><circle cx="504.1" cy="243.6" r="4.2"/><circle cx="515.5" cy="237.7" r="4.2"/><circle cx="527" cy="246.5" r="4.2"/><circle cx="538.4" cy="242.8" r="4.2"/><circle cx="549.8" cy="245" r="4.2"/><circle cx="561.2" cy="242.4" r="4.2"/><circle cx="572.6" cy="247.2" r="4.2"/><circle cx="584.1" cy="250.1" r="4.2"/><circle cx="595.5" cy="243.9" r="4.2"/><circle cx="606.9" cy="250.9" r="4.2"/><circle cx="618.3" cy="252.6" r="4.2"/><circle cx="629.7" cy="250.1" r="4.2"/><circle cx="641.2" cy="253.5" r="4.2"/></g>
<line x1="93.0" y1="172.4" x2="651.0" y2="260.3" stroke="#800000" stroke-width="2.5"/>
<text x="86" y="402" font-size="30.5" fill="#404040" font-family="Liberation Sans, sans-serif" >0</text>
<text x="203.6" y="402" font-size="30.5" fill="#404040" font-family="Liberation Sans, sans-serif" >500</text>
<path d="M344.31,402.00 L346.87,402.00 L346.87,380.89 L344.86,380.89 C344.37,382.85 342.54,384.55 339.58,384.86 L339.58,387.18 L344.31,387.18 Z" fill="#404040"/>
<text x="353.46" y="402" font-size="30.5" fill="#404040" font-family="Liberation Sans, sans-serif" >000</text>
<path d="M484.31,402.00 L486.87,402.00 L486.87,380.89 L484.86,380.89 C484.37,382.85 482.54,384.55 479.58,384.86 L479.58,387.18 L484.31,387.18 Z" fill="#404040"/>
<text x="493.46" y="402" font-size="30.5" fill="#404040" font-family="Liberation Sans, sans-serif" >500</text>
<text x="614.9" y="402" font-size="30.5" fill="#404040" font-family="Liberation Sans, sans-serif" >2000</text>
<text x="304" y="428.6" font-size="30.7" fill="#404040" font-family="Liberation Sans, sans-serif" >Time [ms]</text>
<text transform="translate(27.6,191.6) rotate(-90)" font-size="30.5" text-anchor="middle" fill="#404040" font-family="Liberation Sans, sans-serif">YFP intensity [FU/area]</text>
<path d="M47.78,99.60 L50.30,99.60 L50.30,78.84 L48.32,78.84 C47.84,80.76 46.04,82.44 43.13,82.74 L43.13,85.02 L47.78,85.02 Z" fill="#404040"/>
<text x="56.78" y="99.6" font-size="30" fill="#404040" font-family="Liberation Sans, sans-serif" >0</text>
<text x="73.8" y="90.8" font-size="15" fill="#404040" font-family="Liberation Sans, sans-serif" >4</text>
<path d="M46.40,385.00 L48.50,385.00 L48.50,367.70 L46.85,367.70 C46.45,369.30 44.95,370.70 42.52,370.95 L42.52,372.85 L46.40,372.85 Z" fill="#404040"/>
<text x="53.9" y="385" font-size="25" fill="#404040" font-family="Liberation Sans, sans-serif" >0</text>
<text x="68" y="376.6" font-size="15" fill="#404040" font-family="Liberation Sans, sans-serif" >3</text>
<text x="234.9" y="50.7" font-size="28" font-weight="bold" fill="#1a1a1a" font-family="Liberation Sans, sans-serif">MreB-YFP</text>
<text transform="translate(410.5,40.4) scale(1.15,1)" font-size="30" fill="#404040" font-family="Liberation Sans, sans-serif">&lt;</text>
<text transform="translate(430.5,38.9) scale(1.15,1)" font-size="30" fill="#404040" font-family="Liberation Sans, sans-serif">τ</text>
<path d="M449.48,49.30 L450.95,49.30 L450.95,37.19 L449.80,37.19 C449.51,38.31 448.46,39.29 446.77,39.46 L446.77,40.79 L449.48,40.79 Z" fill="#404040"/>
<text x="454.73" y="49.3" font-size="17.5" fill="#404040" font-family="Liberation Sans, sans-serif" >/2</text>
<text transform="translate(469,40.4) scale(1.15,1)" font-size="30" fill="#404040" font-family="Liberation Sans, sans-serif">&gt;</text>
<text x="495.4" y="40.7" font-size="31" fill="#404040" font-family="Liberation Sans, sans-serif" >=</text>
<path d="M530.31,38.90 L532.87,38.90 L532.87,17.79 L530.86,17.79 C530.37,19.75 528.54,21.45 525.58,21.76 L525.58,24.08 L530.31,24.08 Z" fill="#404040"/>
<text x="539.46" y="38.9" font-size="30.5" fill="#404040" font-family="Liberation Sans, sans-serif" >.3</text>
<text x="572.5" y="38.9" font-size="31" fill="#404040" font-family="Liberation Sans, sans-serif" >s</text>
<text x="437" y="75.8" font-size="30.5" fill="#404040" font-family="Liberation Sans, sans-serif" >σ</text>
<text x="456" y="85.9" font-size="17" fill="#404040" font-family="Liberation Sans, sans-serif" >τ</text>
<path d="M469.48,96.00 L470.95,96.00 L470.95,83.89 L469.80,83.89 C469.51,85.01 468.46,85.99 466.77,86.16 L466.77,87.50 L469.48,87.50 Z" fill="#404040"/>
<text x="474.73" y="96" font-size="17.5" fill="#404040" font-family="Liberation Sans, sans-serif" >/2</text>
<text x="497.8" y="76.6" font-size="31" fill="#404040" font-family="Liberation Sans, sans-serif" >=</text>
<text x="523.5" y="75.8" font-size="30.5" fill="#404040" font-family="Liberation Sans, sans-serif" >0.4</text>
<text x="574.9" y="75.8" font-size="31" fill="#404040" font-family="Liberation Sans, sans-serif" >s</text>
</svg>
</body></html>
